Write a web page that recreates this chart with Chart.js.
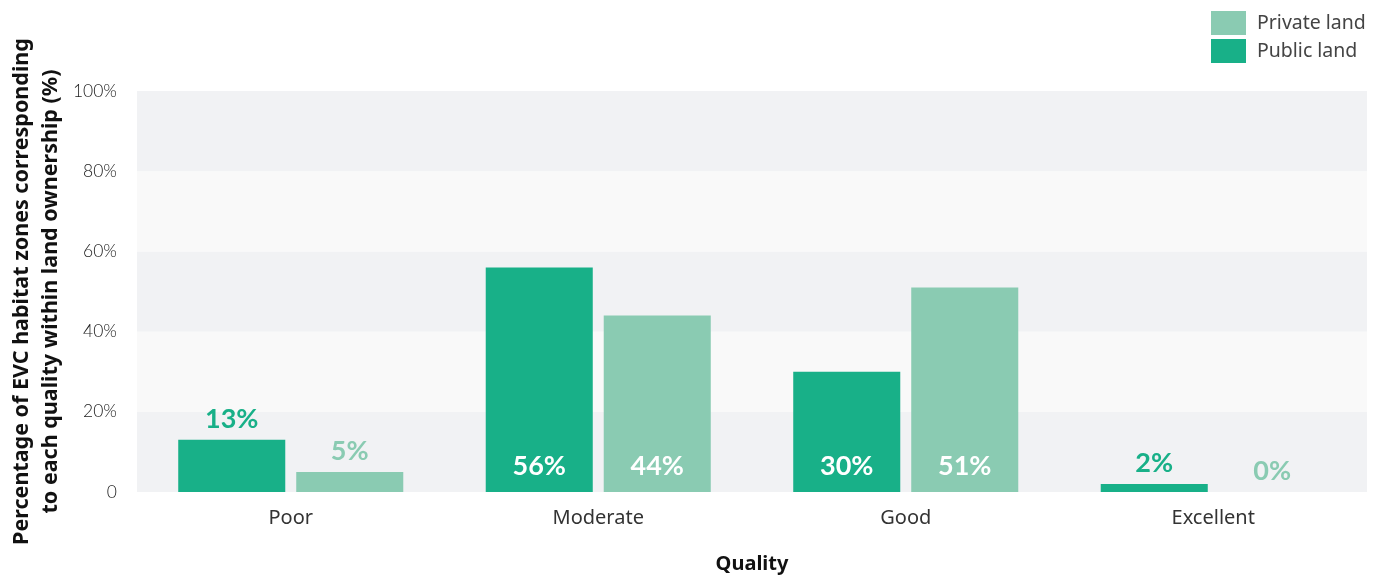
<!DOCTYPE html>
<html>
<head>
<meta charset="UTF-8">
<title>EVC habitat zone quality by land ownership</title>
<style type="text/css">
html, body {
	margin: 0;
	padding: 0;
	background: #ffffff;
}
</style>
<script src="https://cdn.jsdelivr.net/npm/chart.js@4.4.1/dist/chart.umd.min.js"></script>
</head>
<body>
<canvas id="qualityChart" width="1386" height="579"></canvas>
<script type="text/javascript">
	// Quality classes and share of EVC habitat zones (%) per land ownership
	var categories = ['Poor', 'Moderate', 'Good', 'Excellent'];
	var publicLand = [13, 56, 30, 2];
	var privateLand = [5, 44, 51, 0];
	var yTicks = [0, 20, 40, 60, 80, 100];

	var publicColor = '#18b088';
	var privateColor = '#8acbb2';

	// Alternating grey bands behind the bars, one per 20% step
	var bandsPlugin = {
		id: 'bands',
		beforeDraw: function(chart) {
			var ctx = chart.ctx;
			var area = chart.chartArea;
			var y = chart.scales.y;
			ctx.save();
			for (var i = 0; i < yTicks.length - 1; i += 1) {
				var top = y.getPixelForValue(yTicks[i + 1]);
				var bottom = y.getPixelForValue(yTicks[i]);
				ctx.fillStyle = (i % 2 == 0) ? '#f1f2f4' : '#f9f9f9';
				ctx.fillRect(area.left, top, area.right - area.left, bottom - top);
			}
			ctx.restore();
		}
	};

	// Percentage labels: inside the base of tall bars, above short ones
	var valueLabelsPlugin = {
		id: 'valueLabels',
		afterDatasetsDraw: function(chart) {
			var ctx = chart.ctx;
			ctx.save();
			ctx.font = 'bold 27px Lato';
			ctx.textAlign = 'center';
			ctx.textBaseline = 'middle';
			chart.data.datasets.forEach(function(ds, di) {
				var meta = chart.getDatasetMeta(di);
				meta.data.forEach(function(bar, i) {
					var v = ds.data[i];
					if (v >= 20) {
						ctx.fillStyle = '#ffffff';
						ctx.fillText(v + '%', bar.x, bar.base - 26);
					} else {
						ctx.fillStyle = ds.backgroundColor;
						ctx.fillText(v + '%', bar.x, bar.y - 21);
					}
				});
			});
			ctx.restore();
		}
	};

	// Stacked legend in the top right corner (private first)
	var stackedLegendPlugin = {
		id: 'stackedLegend',
		afterDraw: function(chart) {
			var ctx = chart.ctx;
			var items = chart.data.datasets.slice().reverse();
			ctx.save();
			ctx.font = '19.5px "Noto Sans"';
			ctx.textAlign = 'left';
			ctx.textBaseline = 'middle';
			items.forEach(function(ds, i) {
				var top = 11 + i * 28;
				ctx.fillStyle = ds.backgroundColor;
				ctx.fillRect(1211, top, 35, 24);
				ctx.fillStyle = '#444444';
				ctx.fillText(ds.label, 1257, top + 12);
			});
			ctx.restore();
		}
	};

	var ctx = document.getElementById('qualityChart').getContext('2d');
	var chart = new Chart(ctx, {
		type: 'bar',
		data: {
			labels: categories,
			datasets: [
				{
					label: 'Public land',
					data: publicLand,
					backgroundColor: publicColor,
					categoryPercentage: 0.7675,
					barPercentage: 0.907
				},
				{
					label: 'Private land',
					data: privateLand,
					backgroundColor: privateColor,
					categoryPercentage: 0.7675,
					barPercentage: 0.907
				}
			]
		},
		options: {
			responsive: false,
			animation: false,
			devicePixelRatio: 1,
			layout: {
				padding: { top: 91, right: 19, bottom: 0, left: 0 }
			},
			plugins: {
				legend: { display: false },
				tooltip: { enabled: false }
			},
			scales: {
				x: {
					grid: { display: false },
					border: { display: false },
					ticks: {
						padding: 6,
						color: '#333333',
						font: { family: 'Noto Sans', size: 20 }
					},
					title: {
						display: true,
						text: 'Quality',
						color: '#111111',
						padding: { top: 0, bottom: 3 },
						font: { family: 'Noto Sans', size: 20, weight: 'bold', lineHeight: 1.2 }
					},
					afterFit: function(scale) { scale.height = 87; }
				},
				y: {
					min: 0,
					max: 100,
					grid: { display: false },
					border: { display: false },
					ticks: {
						stepSize: 20,
						padding: 12,
						color: '#222222',
						font: { family: 'Lato', size: 17.5, weight: 300 },
						callback: function(value) { return value == 0 ? '0' : value + '%'; }
					},
					title: {
						display: true,
						text: ['Percentage of EVC habitat zones corresponding', 'to each quality within land ownership (%)'],
						color: '#111111',
						padding: { top: 8, bottom: 0 },
						font: { family: 'Noto Sans', size: 21.5, weight: 'bold', lineHeight: 1.33 }
					},
					afterFit: function(scale) { scale.width = 137; }
				}
			}
		},
		plugins: [bandsPlugin, valueLabelsPlugin, stackedLegendPlugin]
	});
</script>
</body>
</html>
